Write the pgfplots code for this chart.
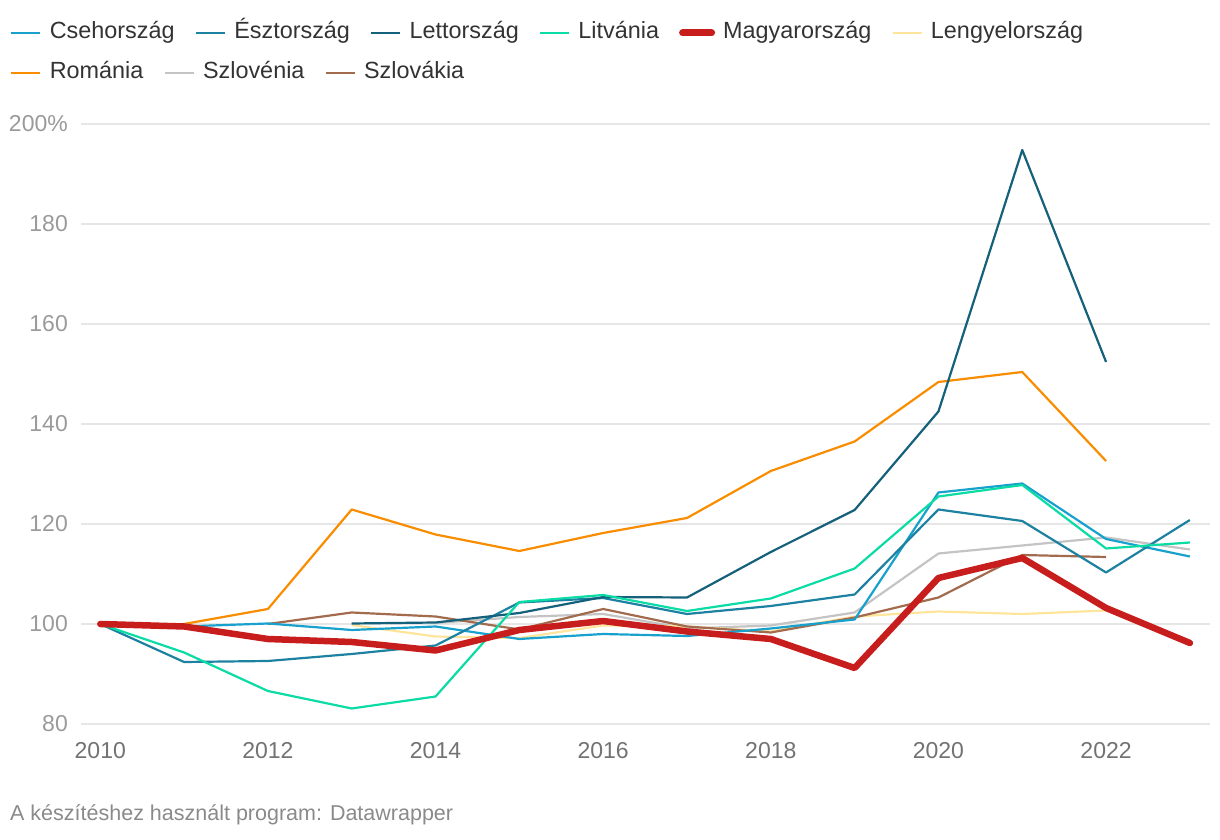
\documentclass[border=0pt]{standalone}
\usepackage{fontspec}
\setmainfont{Liberation Sans}
\usepackage{pgfplots}
\pgfplotsset{compat=1.18}

\definecolor{czc}{HTML}{18A1CD}
\definecolor{eec}{HTML}{1D81A2}
\definecolor{lvc}{HTML}{15607A}
\definecolor{ltc}{HTML}{0BDBA5}
\definecolor{huc}{HTML}{C71E1D}
\definecolor{plc}{HTML}{FFE59C}
\definecolor{roc}{HTML}{FA8C00}
\definecolor{sic}{HTML}{C4C4C4}
\definecolor{skc}{HTML}{A36B4E}
\definecolor{gridc}{HTML}{E6E6E6}
\definecolor{ylab}{HTML}{9A9A9A}
\definecolor{xlab}{HTML}{727272}
\definecolor{legc}{HTML}{333333}
\definecolor{footc}{HTML}{8A8A8A}

\pgfplotsset{
  base/.style={
    at={(81pt,116pt)}, anchor=south west,
    scale only axis, width=1129pt, height=600pt,
    xmin=2009.77, xmax=2023.24, ymin=80, ymax=200,
    clip=false,
  },
  leg/.style={
    legend columns=6,
    legend cell align=left,
    legend image code/.code={\draw[##1] (0pt,0pt) -- (29pt,0pt);},
    legend style={draw=none, fill=none, inner sep=0pt, anchor=west,
      font=\fontsize{23.4}{27}\selectfont, text=legc,
      nodes={inner sep=0pt, text height=17pt, text depth=5pt},
      /tikz/every odd column/.style={column sep=8pt},
      /tikz/every even column/.style={column sep=20pt}},
  },
  ser/.style={line width=2.2pt, line join=round},
}

\begin{document}
\begin{tikzpicture}[x=1pt,y=1pt]
\useasboundingbox (0,0) rectangle (1220,840);
\begin{axis}[base, leg,
  legend style={at={(-0.0629,1.1517)}},
  axis line style={draw=none},
  ymajorgrids, grid style={gridc, line width=1.6pt},
  major tick length=0pt,
  xtick={2010,2012,2014,2016,2018,2020,2022},
  xticklabels={2010,2012,2014,2016,2018,2020,2022},
  ytick={80,100,120,140,160,180,200},
  yticklabels={80,100,120,140,160,180,200\%},
  tick label style={font=\fontsize{23}{27}\selectfont, inner sep=0pt},
  xticklabel style={anchor=north, text=xlab},
  yticklabel style={anchor=east, text=ylab},
  xticklabel shift=18pt, yticklabel shift=13pt,
]
\addlegendimage{czc, line width=2.6pt}
\addlegendentry{Csehország}
\addlegendimage{eec, line width=2.6pt}
\addlegendentry{Észtország}
\addlegendimage{lvc, line width=2.6pt}
\addlegendentry{Lettország}
\addlegendimage{ltc, line width=2.6pt}
\addlegendentry{Litvánia}
\addlegendimage{huc, line width=7pt, line cap=round}
\addlegendentry{Magyarország}
\addlegendimage{plc, line width=2.6pt}
\addlegendentry{Lengyelország}

% Szlovénia
\addplot[ser, sic, forget plot] coordinates {
(2014,100.2) (2015,101.4) (2016,102.0) (2017,99.1) (2018,99.7) (2019,102.3)
(2020,114.1) (2021,115.7) (2022,117.3) (2023,114.9)
};
% Lengyelország
\addplot[ser, plc, forget plot] coordinates {
(2013,99.8) (2014,97.5) (2015,97.2) (2016,99.7) (2017,99.5) (2018,98.5)
(2019,101.5) (2020,102.5) (2021,102.0) (2022,102.7)
};
% Szlovákia
\addplot[ser, skc, forget plot] coordinates {
(2012,100.0) (2013,102.3) (2014,101.5) (2015,98.9) (2016,103.0) (2017,99.5)
(2018,98.3) (2019,101.3) (2020,105.3) (2021,113.8) (2022,113.4)
};
% Románia
\addplot[ser, roc, forget plot] coordinates {
(2011,100.0) (2012,103.0) (2013,122.9) (2014,117.9) (2015,114.6) (2016,118.2)
(2017,121.2) (2018,130.6) (2019,136.5) (2020,148.4) (2021,150.4) (2022,132.6)
};
% Csehország
\addplot[ser, czc, forget plot] coordinates {
(2010,100.0) (2011,99.5) (2012,100.1) (2013,98.8) (2014,99.5) (2015,97.0)
(2016,98.0) (2017,97.6) (2018,99.1) (2019,100.9) (2020,126.3) (2021,128.1)
(2022,117.0) (2023,113.5)
};
% Észtország
\addplot[ser, eec, forget plot] coordinates {
(2010,100.0) (2011,92.4) (2012,92.6) (2013,94.0) (2014,95.7) (2015,104.3)
(2016,105.2) (2017,102.0) (2018,103.6) (2019,105.9) (2020,122.9) (2021,120.6)
(2022,110.3) (2023,120.8)
};
% Lettország
\addplot[ser, lvc, forget plot] coordinates {
(2013,100.1) (2014,100.3) (2015,102.2) (2016,105.4) (2017,105.3) (2018,114.4)
(2019,122.8) (2020,142.5) (2021,194.8) (2022,152.4)
};
% Litvánia
\addplot[ser, ltc, forget plot] coordinates {
(2010,100.0) (2011,94.3) (2012,86.6) (2013,83.1) (2014,85.5) (2015,104.4)
(2016,105.8) (2017,102.6) (2018,105.1) (2019,111.1) (2020,125.5) (2021,127.8)
(2022,115.1) (2023,116.3)
};
% Magyarország
\addplot[huc, line width=6.5pt, line join=round, line cap=round, forget plot] coordinates {
(2010,100.0) (2011,99.5) (2012,97.0) (2013,96.4) (2014,94.7) (2015,98.8)
(2016,100.6) (2017,98.5) (2018,97.0) (2019,91.2) (2020,109.2) (2021,113.2)
(2022,103.2) (2023,96.2)
};
\end{axis}

\begin{axis}[base, leg, hide axis,
  legend style={at={(-0.0629,1.085)}},
]
\addlegendimage{roc, line width=2.6pt}
\addlegendentry{Románia}
\addlegendimage{sic, line width=2.6pt}
\addlegendentry{Szlovénia}
\addlegendimage{skc, line width=2.6pt}
\addlegendentry{Szlovákia}
\end{axis}

\node[anchor=west, inner sep=0pt, text=footc, font=\fontsize{21.5}{25}\selectfont]
  at (10,25) {A készítéshez használt program: Datawrapper};
\end{tikzpicture}
\end{document}
